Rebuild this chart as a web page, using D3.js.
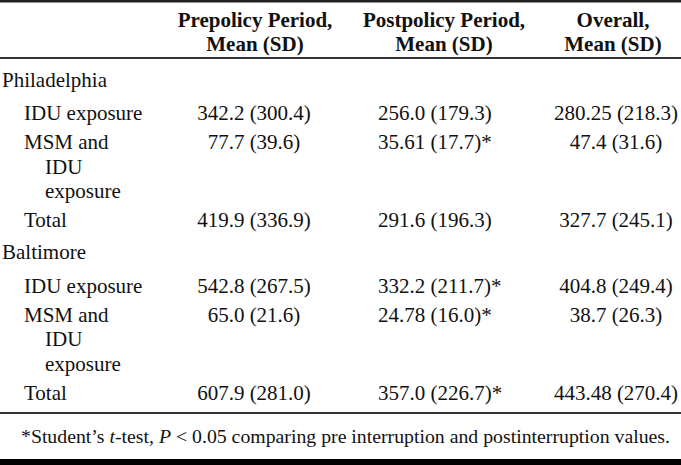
<!DOCTYPE html>
<html>
<head>
<meta charset="utf-8">
<script src="https://cdn.jsdelivr.net/npm/d3@7"></script>
<style>
  html, body { margin: 0; padding: 0; background: #fff; }
  svg { display: block; }
</style>
</head>
<body>
<script>
// ---- data ----
const headerLine1 = ["Prepolicy Period,", "Postpolicy Period,", "Overall,"];
const headerLine2 = ["Mean (SD)", "Mean (SD)", "Mean (SD)"];
const groups = ["Philadelphia", "Baltimore"];
const measureLines = [["IDU exposure"], ["MSM and", "IDU", "exposure"], ["Total"]];
const preValues = ["342.2 (300.4)", "77.7 (39.6)", "419.9 (336.9)", "542.8 (267.5)", "65.0 (21.6)", "607.9 (281.0)"];
const postValues = ["256.0 (179.3)", "35.61 (17.7)*", "291.6 (196.3)", "332.2 (211.7)*", "24.78 (16.0)*", "357.0 (226.7)*"];
const overallValues = ["280.25 (218.3)", "47.4 (31.6)", "327.7 (245.1)", "404.8 (249.4)", "38.7 (26.3)", "443.48 (270.4)"];
const footnoteParts = [
  {t: "*Student\u2019s ", i: false}, {t: "t", i: true}, {t: "-test, ", i: false},
  {t: "P", i: true}, {t: " < 0.05 comparing pre interruption and postinterruption values.", i: false}
];

// ---- layout ----
const W = 681, H = 465;
const FS = 21;
const FONT = "Liberation Serif, Tinos, Times New Roman, DejaVu Serif, serif";
const svg = d3.select("body").append("svg").attr("width", W).attr("height", H)
  .attr("font-family", FONT).style("font-family", "'Liberation Serif', 'Times New Roman', serif");

const colCenters = [255, 444, 613];
const valueAnchor = [{x: 254, a: "middle"}, {x: 378, a: "start"}, {x: 616, a: "middle"}];

// rules
svg.append("rect").attr("x", 0).attr("y", 0).attr("width", W).attr("height", 2.5).attr("fill", "#222");
svg.append("rect").attr("x", 0).attr("y", 57).attr("width", W).attr("height", 2).attr("fill", "#333");
svg.append("rect").attr("x", 0).attr("y", 412).attr("width", W).attr("height", 2).attr("fill", "#333");
svg.append("rect").attr("x", 0).attr("y", 459).attr("width", W).attr("height", 6).attr("fill", "#000");

// header
const hdr = svg.append("g").attr("font-weight", "bold").attr("font-size", FS).attr("text-anchor", "middle").attr("fill", "#111");
hdr.selectAll("text.h1").data(headerLine1).join("text").attr("class", "h1")
  .attr("x", (d, i) => colCenters[i]).attr("y", 27).text(d => d);
hdr.selectAll("text.h2").data(headerLine2).join("text").attr("class", "h2")
  .attr("x", (d, i) => colCenters[i]).attr("y", 51).text(d => d);

// body rows
const rows = [];
groups.forEach((g, gi) => {
  rows.push({type: "group", lines: [g]});
  measureLines.forEach((ml, mi) => {
    const k = gi * measureLines.length + mi;
    rows.push({type: "row", lines: ml, vals: [preValues[k], postValues[k], overallValues[k]]});
  });
});

const lineH = 24.6;
let y = 87, prev = null;
rows.forEach(r => {
  if (prev) {
    let gap = 28.8;
    if (prev.type === "group") gap += 4.5;
    if (r.type === "group") gap += 3.5;
    y = prev.lastY + gap;
  }
  r.y = y;
  r.lastY = y + (r.lines.length - 1) * lineH;
  prev = r;
});

const body = svg.append("g").attr("font-size", FS).attr("fill", "#111");
rows.forEach(r => {
  r.lines.forEach((ln, li) => {
    const x = r.type === "group" ? 2 : (li === 0 ? 24 : 45);
    body.append("text").attr("x", x).attr("y", r.y + li * lineH).text(ln);
  });
  if (r.vals) {
    r.vals.forEach((v, ci) => {
      body.append("text").attr("x", valueAnchor[ci].x).attr("y", r.y)
        .attr("text-anchor", valueAnchor[ci].a).text(v);
    });
  }
});

// footnote
const fn = svg.append("text").attr("x", 670).attr("y", 443).attr("font-size", 19.8).attr("text-anchor", "end").attr("fill", "#111");
fn.selectAll("tspan").data(footnoteParts).join("tspan")
  .attr("font-style", d => d.i ? "italic" : null).text(d => d.t);
</script>
</body>
</html>
